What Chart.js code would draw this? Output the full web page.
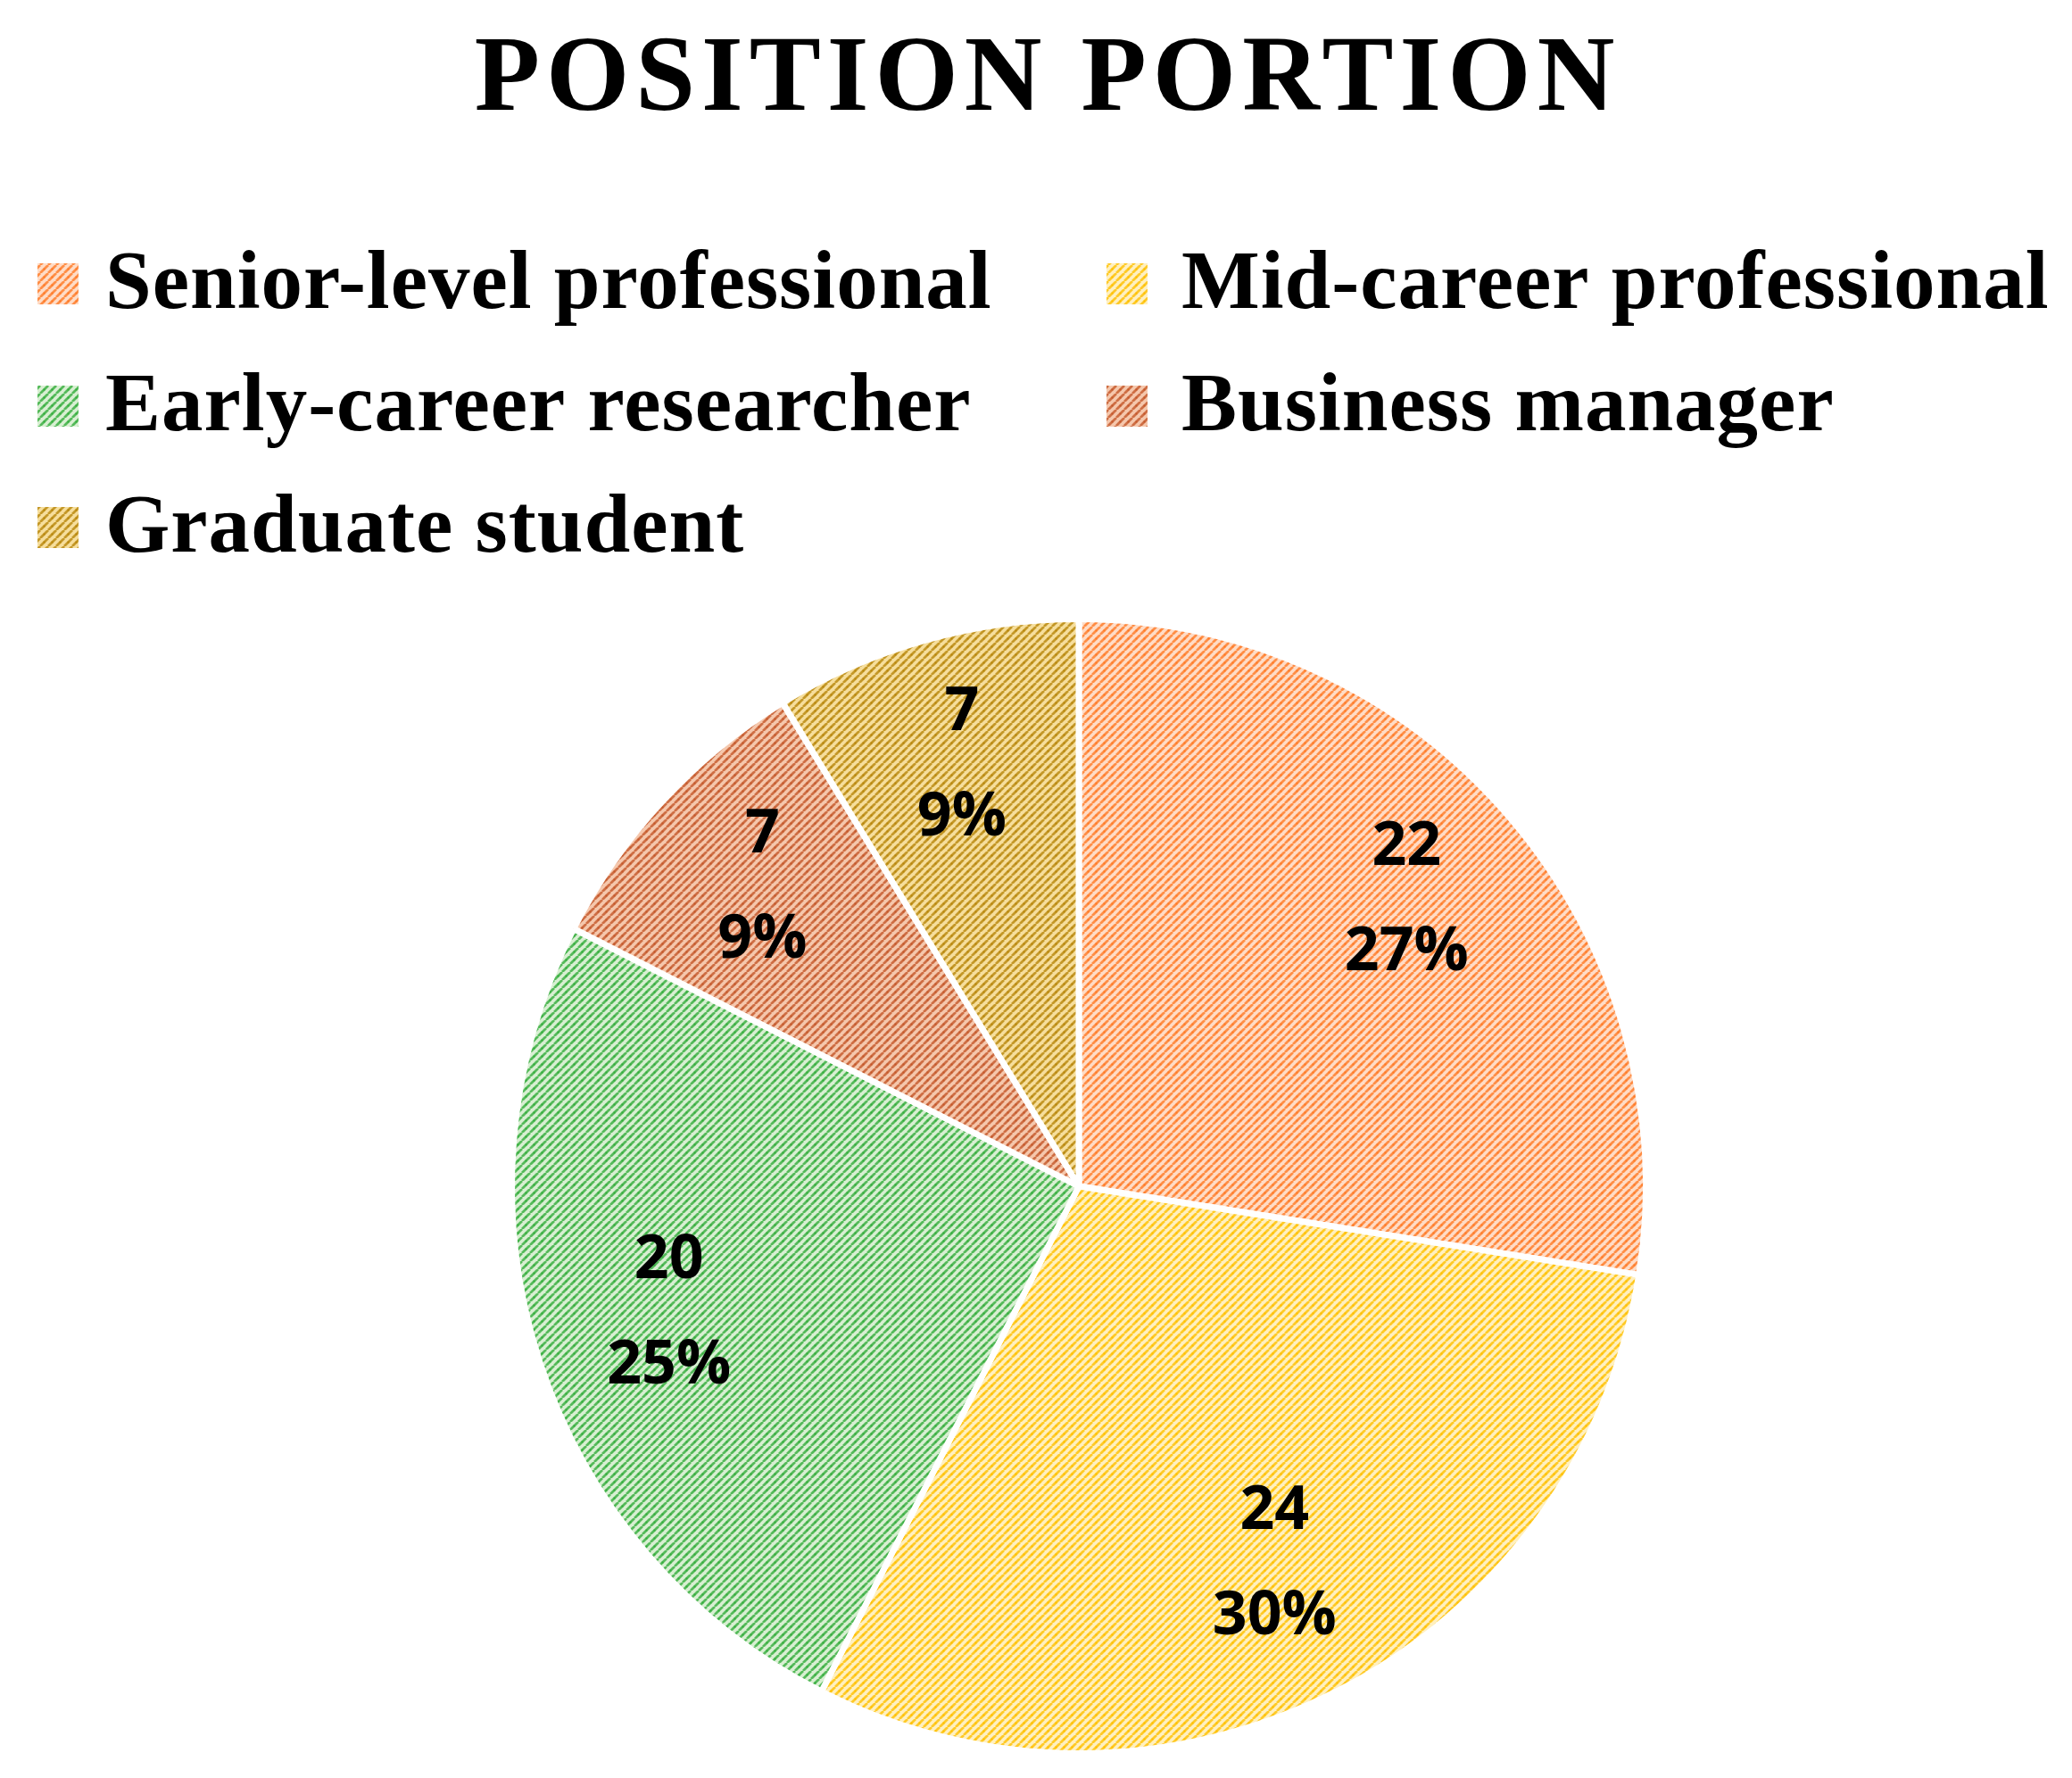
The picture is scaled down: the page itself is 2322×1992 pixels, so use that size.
<!DOCTYPE html>
<html>
<head>
<meta charset="utf-8">
<script src="https://cdn.jsdelivr.net/npm/chart.js@4"></script>
<style>
  html, body { margin: 0; padding: 0; background: #fff; }
  canvas { display: block; }
</style>
</head>
<body>
<canvas id="pie" width="2322" height="1992"></canvas>
<script>
const chartTitle = 'POSITION PORTION';
const positions = [
	'Senior-level professional',
	'Mid-career professional',
	'Early-career researcher',
	'Business manager',
	'Graduate student'
];
const counts = [22, 24, 20, 7, 7];
const shares = ['27%', '30%', '25%', '9%', '9%'];

// hatch colours: light ground + darker stripe
const groundColors = ['#ffdcc6', '#fff0c0', '#d8efd2', '#f5c7ac', '#f6de9c'];
const stripeColors = ['#ff7a26', '#ffc000', '#35ad3c', '#c4582a', '#b8860b'];

function hatch(ground, stripe) {
	const size = 9;
	const c = document.createElement('canvas');
	c.width = size;
	c.height = size;
	const g = c.getContext('2d');
	g.fillStyle = ground;
	g.fillRect(0, 0, size, size);
	g.strokeStyle = stripe;
	g.globalAlpha = 0.8;
	g.lineWidth = 2.8;
	g.beginPath();
	for (let k = -1; k <= 1; k++) {
		g.moveTo(k * size, size);
		g.lineTo(k * size + size, 0);
	}
	g.stroke();
	g.globalAlpha = 1;
	g.fillStyle = stripe;
	g.fillRect(size / 2 - 1, size / 2 - 1, 2, 2);
	return g.createPattern(c, 'repeat');
}

const fills = groundColors.map((c, i) => hatch(c, stripeColors[i]));

const titlePlugin = {
	id: 'titleAndLegend',
	afterDraw(chart) {
		const ctx = chart.ctx;
		ctx.save();
		ctx.fillStyle = '#000';
		ctx.font = 'bold 120px "Liberation Serif"';
		ctx.letterSpacing = '7px';
		ctx.textAlign = 'center';
		ctx.textBaseline = 'alphabetic';
		ctx.fillText(chartTitle, 1174, 123);

		const colX = [42, 1240];
		const textX = [118, 1324];
		const rowY = [318, 455, 591];
		ctx.font = 'bold 93px "Liberation Serif"';
		ctx.letterSpacing = '1px';
		ctx.textAlign = 'left';
		chart.data.labels.forEach((label, i) => {
			const col = i % 2;
			const row = Math.floor(i / 2);
			const y = rowY[row];
			ctx.fillStyle = chart.data.datasets[0].backgroundColor[i];
			ctx.fillRect(colX[col], y - 23, 46, 46);
			ctx.fillStyle = '#000';
			ctx.fillText(label, textX[col], y + 27);
		});
		ctx.restore();
	}
};

const sliceLabels = {
	id: 'sliceLabels',
	afterDatasetsDraw(chart) {
		const ctx = chart.ctx;
		const meta = chart.getDatasetMeta(0);
		ctx.save();
		ctx.fillStyle = '#000';
		ctx.font = 'bold 68px "Open Sans"';
		ctx.textAlign = 'center';
		ctx.textBaseline = 'middle';
		meta.data.forEach((arc, i) => {
			const p = arc.getProps(['x', 'y', 'startAngle', 'endAngle', 'outerRadius'], true);
			const mid = (p.startAngle + p.endAngle) / 2;
			const r = p.outerRadius * 0.76;
			const x = p.x + Math.cos(mid) * r;
			const y = p.y + Math.sin(mid) * r - 8;
			ctx.fillText(String(counts[i]), x, y - 58);
			ctx.fillText(shares[i], x, y + 60);
		});
		ctx.restore();
	}
};

const chartPie = new Chart(document.getElementById('pie'), {
	type: 'pie',
	data: {
		labels: positions,
		datasets: [{
			data: counts,
			backgroundColor: fills,
			borderColor: '#ffffff',
			borderWidth: 7
		}]
	},
	options: {
		responsive: false,
		animation: false,
		devicePixelRatio: 1,
		layout: { padding: { top: 690, bottom: 24, left: 100, right: 4 } },
		plugins: {
			legend: { display: false },
			title: { display: false },
			tooltip: { enabled: false }
		}
	},
	plugins: [titlePlugin, sliceLabels]
});
</script>
</body>
</html>
